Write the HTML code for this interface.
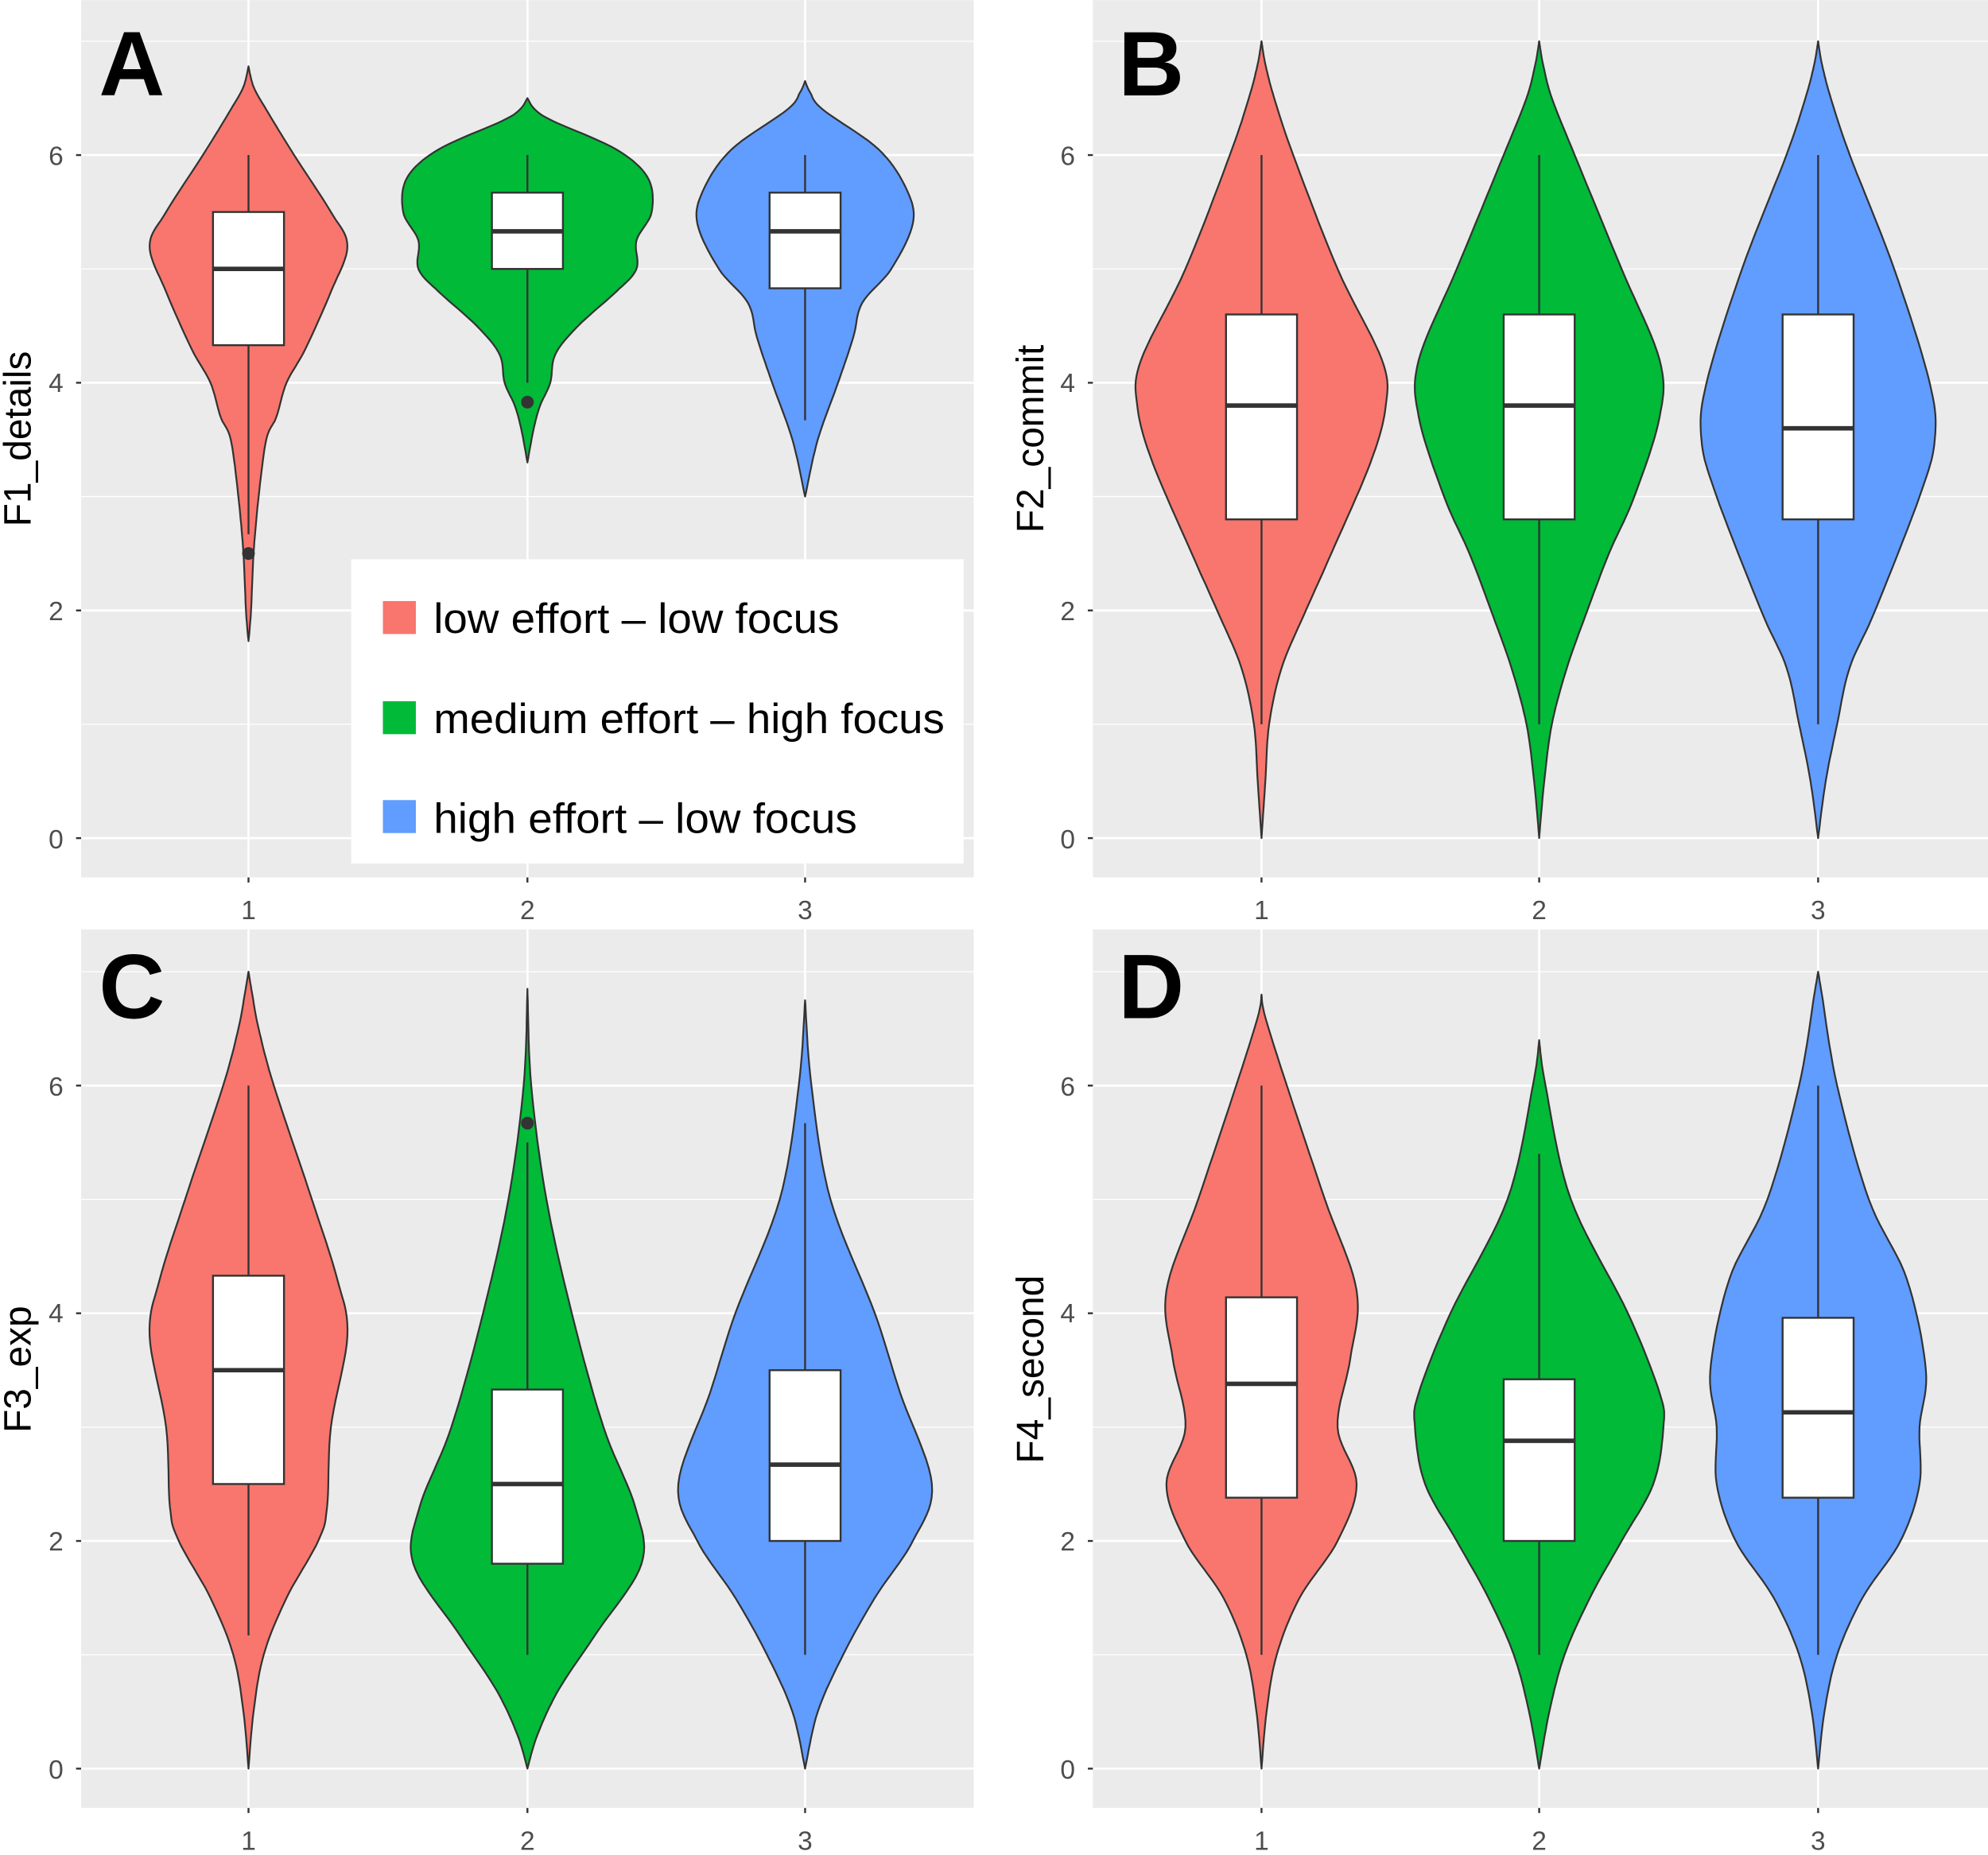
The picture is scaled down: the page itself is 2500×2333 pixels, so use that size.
<!DOCTYPE html>
<html><head><meta charset="utf-8"><style>
html,body{margin:0;padding:0;background:#fff;}
svg{display:block;}
text{font-family:"Liberation Sans",Arial,sans-serif;}
</style></head><body>
<svg id="s" width="2500" height="2333" viewBox="0 0 1568 1463" xmlns="http://www.w3.org/2000/svg">
<rect width="1568" height="1463" fill="#fff"/>
<g id="bg"></g>
<g id="vio"></g>
<g font-size="21" fill="#4d4d4d" text-anchor="end">
<text x="50" y="669">0</text><text x="50" y="489">2</text><text x="50" y="309">4</text><text x="50" y="130">6</text>
<text x="848" y="669">0</text><text x="848" y="489">2</text><text x="848" y="309">4</text><text x="848" y="130">6</text>
<text x="50" y="1403">0</text><text x="50" y="1223">2</text><text x="50" y="1043">4</text><text x="50" y="864">6</text>
<text x="848" y="1403">0</text><text x="848" y="1223">2</text><text x="848" y="1043">4</text><text x="848" y="864">6</text>
</g>
<g font-size="21" fill="#4d4d4d" text-anchor="middle">
<text x="196" y="725">1</text><text x="416" y="725">2</text><text x="635" y="725">3</text>
<text x="995" y="725">1</text><text x="1214" y="725">2</text><text x="1434" y="725">3</text>
<text x="196" y="1459">1</text><text x="416" y="1459">2</text><text x="635" y="1459">3</text>
<text x="995" y="1459">1</text><text x="1214" y="1459">2</text><text x="1434" y="1459">3</text>
</g>
<g font-size="30" fill="#000" text-anchor="middle">
<text transform="translate(24,346) rotate(-90)">F1_details</text>
<text transform="translate(823,346) rotate(-90)">F2_commit</text>
<text transform="translate(24,1080) rotate(-90)">F3_exp</text>
<text transform="translate(823,1080) rotate(-90)">F4_second</text>
</g>
<g font-size="72" font-weight="bold" fill="#000">
<text x="78" y="75">A</text><text x="882" y="75">B</text>
<text x="78" y="803">C</text><text x="882" y="803">D</text>
</g>
<g>
<rect x="277" y="441" width="483" height="240" fill="#fff"/>
<rect x="302" y="474" width="26" height="26" fill="#F8766D"/>
<rect x="302" y="553" width="26" height="26" fill="#00BA38"/>
<rect x="302" y="631" width="26" height="26" fill="#619CFF"/>
<g font-size="33" fill="#000">
<text x="342" y="499" textLength="320" lengthAdjust="spacingAndGlyphs">low effort – low focus</text>
<text x="342" y="578" textLength="403" lengthAdjust="spacingAndGlyphs">medium effort – high focus</text>
<text x="342" y="657" textLength="334" lengthAdjust="spacingAndGlyphs">high effort – low focus</text>
</g>
</g>
</svg>
<script>
var NS="http://www.w3.org/2000/svg";
var bg=document.getElementById('bg'),vio=document.getElementById('vio');
function el(p,t,a){var e=document.createElementNS(NS,t);for(var k in a)e.setAttribute(k,a[k]);p.appendChild(e);return e;}
var panels=[
 {x0:64,x1:768,y0:0,y1:692,zero:661,xs:[196,416,635]},
 {x0:862,x1:1568,y0:0,y1:692,zero:661,xs:[995,1214,1434]},
 {x0:64,x1:768,y0:733,y1:1426,zero:1395,xs:[196,416,635]},
 {x0:862,x1:1568,y0:733,y1:1426,zero:1395,xs:[995,1214,1434]}];
var U=89.8;
panels.forEach(function(p){
 el(bg,'rect',{x:p.x0,y:p.y0,width:p.x1-p.x0,height:p.y1-p.y0,fill:'#EBEBEB'});
 for(var v=1;v<=7;v+=2){var y=p.zero-v*U;if(y>p.y0)el(bg,'line',{x1:p.x0,x2:p.x1,y1:y,y2:y,stroke:'#fff','stroke-width':0.8});}
 for(var v=0;v<=6;v+=2){var y=p.zero-v*U;el(bg,'line',{x1:p.x0,x2:p.x1,y1:y,y2:y,stroke:'#fff','stroke-width':1.7});
   el(bg,'line',{x1:p.x0-4,x2:p.x0,y1:y,y2:y,stroke:'#333','stroke-width':1.5});}
 p.xs.forEach(function(x){el(bg,'line',{x1:x,x2:x,y1:p.y0,y2:p.y1,stroke:'#fff','stroke-width':1.7});
   el(bg,'line',{x1:x,x2:x,y1:p.y1,y2:p.y1+4,stroke:'#333','stroke-width':1.5});});
});
var cols=['#F8766D','#00BA38','#619CFF'];
var D=[
 [
  {p:[[6.78,0],[6.6,4],[6.4,14],[6,36],[5.5,65],[5.2,78],[4.8,65],[4.3,45],[4,30],[3.7,22],[3.5,14],[3,8],[2.5,4],[2,2],[1.73,0]],b:[2.67,4.33,5,5.5,6],o:[2.5]},
  {p:[[6.5,0],[6.4,6],[6.3,20],[6.05,70],[5.8,95],[5.5,98],[5.25,86],[5.0,86],[4.8,70],[4.5,40],[4.25,22],[4.0,18],[3.8,10],[3.6,5],[3.3,0]],b:[4,5,5.33,5.67,6],o:[3.83]},
  {p:[[6.65,0],[6.55,4],[6.4,14],[6.05,58],[5.7,80],[5.4,85],[5.0,68],[4.7,45],[4.4,38],[4.0,26],[3.5,10],[3.0,0]],b:[3.67,4.83,5.33,5.67,6],o:[]}
 ],
 [
  {p:[[7,0],[6.8,3],[6.5,10],[6,25],[5,60],[4.2,95],[3.8,98],[3.3,86],[2.5,55],[2,35],[1.5,16],[1,6],[0.5,3],[0,0]],b:[1,2.8,3.8,4.6,6],o:[]},
  {p:[[7,0],[6.8,3],[6.5,10],[6,28],[5,65],[4.2,95],[3.7,95],[3,75],[2.5,55],[2,38],[1.5,22],[1,10],[0.5,4],[0,0]],b:[1,2.8,3.8,4.6,6],o:[]},
  {p:[[7,0],[6.8,3],[6.5,10],[6,25],[5,60],[4,88],[3.5,92],[3,80],[2,45],[1.5,25],[1,15],[0.5,6],[0,0]],b:[1,2.8,3.6,4.6,6],o:[]}
 ],
 [
  {p:[[7,0],[6.8,3],[6.5,8],[6,20],[5,50],[4.3,70],[3.8,78],[3,65],[2.3,62],[2,55],[1.5,30],[1,12],[0.5,4],[0,0]],b:[1.17,2.5,3.5,4.33,6],o:[]},
  {p:[[6.85,0],[6,3],[5,15],[4,35],[3,60],[2.3,85],[1.8,90],[1.2,55],[0.7,25],[0.3,8],[0,0]],b:[1,1.8,2.5,3.33,5.5],o:[5.67]},
  {p:[[6.75,0],[6,5],[5,20],[4,55],[3.3,75],[2.5,100],[2,85],[1.5,55],[1,30],[0.5,10],[0,0]],b:[1,2,2.67,3.5,5.67],o:[]}
 ],
 [
  {p:[[6.8,0],[6.6,3],[6,20],[5,50],[4.2,75],[3.6,70],[3,60],[2.5,75],[2,60],[1.5,30],[1,12],[0.5,4],[0,0]],b:[1,2.38,3.38,4.14,6],o:[]},
  {p:[[6.4,0],[6,5],[5,25],[4,70],[3.3,95],[3,98],[2.5,90],[2,65],[1.5,40],[1,20],[0.5,8],[0,0]],b:[1,2,2.88,3.42,5.4],o:[]},
  {p:[[7,0],[6.8,3],[6,15],[5,40],[4.3,70],[3.5,85],[3,80],[2.5,80],[2,65],[1.5,35],[1,15],[0.5,5],[0,0]],b:[1,2.38,3.13,3.96,6],o:[]}
 ]];
function cr(pts){
 var out=[];for(var i=0;i<pts.length-1;i++){var p0=pts[Math.max(0,i-1)],p1=pts[i],p2=pts[i+1],p3=pts[Math.min(pts.length-1,i+2)];
  for(var t=0;t<1;t+=0.1){var t2=t*t,t3=t2*t;
   var f=function(a,b,c,d){return 0.5*((2*b)+(-a+c)*t+(2*a-5*b+4*c-d)*t2+(-a+3*b-3*c+d)*t3);};
   out.push([f(p0[0],p1[0],p2[0],p3[0]),Math.max(0,f(p0[1],p1[1],p2[1],p3[1]))]);}}
 out.push(pts[pts.length-1]);return out;}
D.forEach(function(pd,pi){var P=panels[pi];
 pd.forEach(function(v,vi){var cx=P.xs[vi];var s=cr(v.p);
  var d='';s.forEach(function(q,i){d+=(i?'L':'M')+(cx+q[1]).toFixed(1)+','+(P.zero-q[0]*U).toFixed(1);});
  for(var i=s.length-1;i>=0;i--){var q=s[i];d+='L'+(cx-q[1]).toFixed(1)+','+(P.zero-q[0]*U).toFixed(1);}
  el(vio,'path',{d:d+'Z',fill:cols[vi],stroke:'#333','stroke-width':1.4,'stroke-linejoin':'round'});
  var b=v.b,Y=function(z){return P.zero-z*U;};
  el(vio,'line',{x1:cx,x2:cx,y1:Y(b[0]),y2:Y(b[4]),stroke:'#333','stroke-width':1.5});
  el(vio,'rect',{x:cx-28,y:Y(b[3]),width:56,height:Y(b[1])-Y(b[3]),fill:'#fff',stroke:'#333','stroke-width':1.5});
  el(vio,'line',{x1:cx-28,x2:cx+28,y1:Y(b[2]),y2:Y(b[2]),stroke:'#333','stroke-width':3.5});
  v.o.forEach(function(o){el(vio,'circle',{cx:cx,cy:Y(o),r:5,fill:'#333'});});
 });});
</script>
</body></html>
